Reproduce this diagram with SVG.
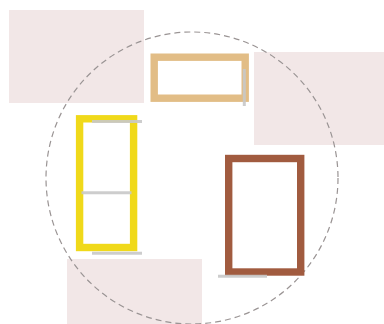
<svg xmlns="http://www.w3.org/2000/svg" width="384" height="324" viewBox="0 0 384 324">
<style>
.zone{fill:#f2e7e7;stroke:none}
.frame{fill:#ffffff;stroke-width:7.4}
.guide{stroke:#c8c8c8;stroke-width:3;fill:none;opacity:0.9}
.ring{fill:none;stroke:#9a9494;stroke-width:1.2;stroke-dasharray:6 4}
</style>
<rect width="384" height="324" fill="#ffffff"/>
<g id="zones">
<rect id="zone-top-left" class="zone" x="9" y="10" width="135" height="93"/>
<rect id="zone-right" class="zone" x="254" y="52" width="130" height="93"/>
<rect id="zone-bottom" class="zone" x="67" y="259" width="135" height="65"/>
</g>
<circle id="ring" class="ring" cx="192" cy="178" r="146"/>
<g id="node-tan">
<rect class="frame" stroke="#e2bd86" x="154.2" y="57.2" width="91" height="41"/>
</g>
<g id="node-yellow">
<rect class="frame" stroke="#f0d91a" x="79.6" y="118.8" width="54" height="128.7"/>
</g>
<g id="node-brown">
<rect class="frame" stroke="#a15b3f" x="228.7" y="158.5" width="72" height="113.5"/>
</g>
<g id="connectors">
<line class="guide" x1="244.3" y1="69" x2="244.3" y2="106"/>
<line class="guide" x1="92" y1="121.5" x2="142" y2="121.5"/>
<line class="guide" x1="81.5" y1="192.7" x2="131.5" y2="192.7"/>
<line class="guide" x1="92" y1="253.3" x2="142" y2="253.3"/>
<line class="guide" x1="218" y1="276.3" x2="267" y2="276.3"/>
</g>
</svg>
